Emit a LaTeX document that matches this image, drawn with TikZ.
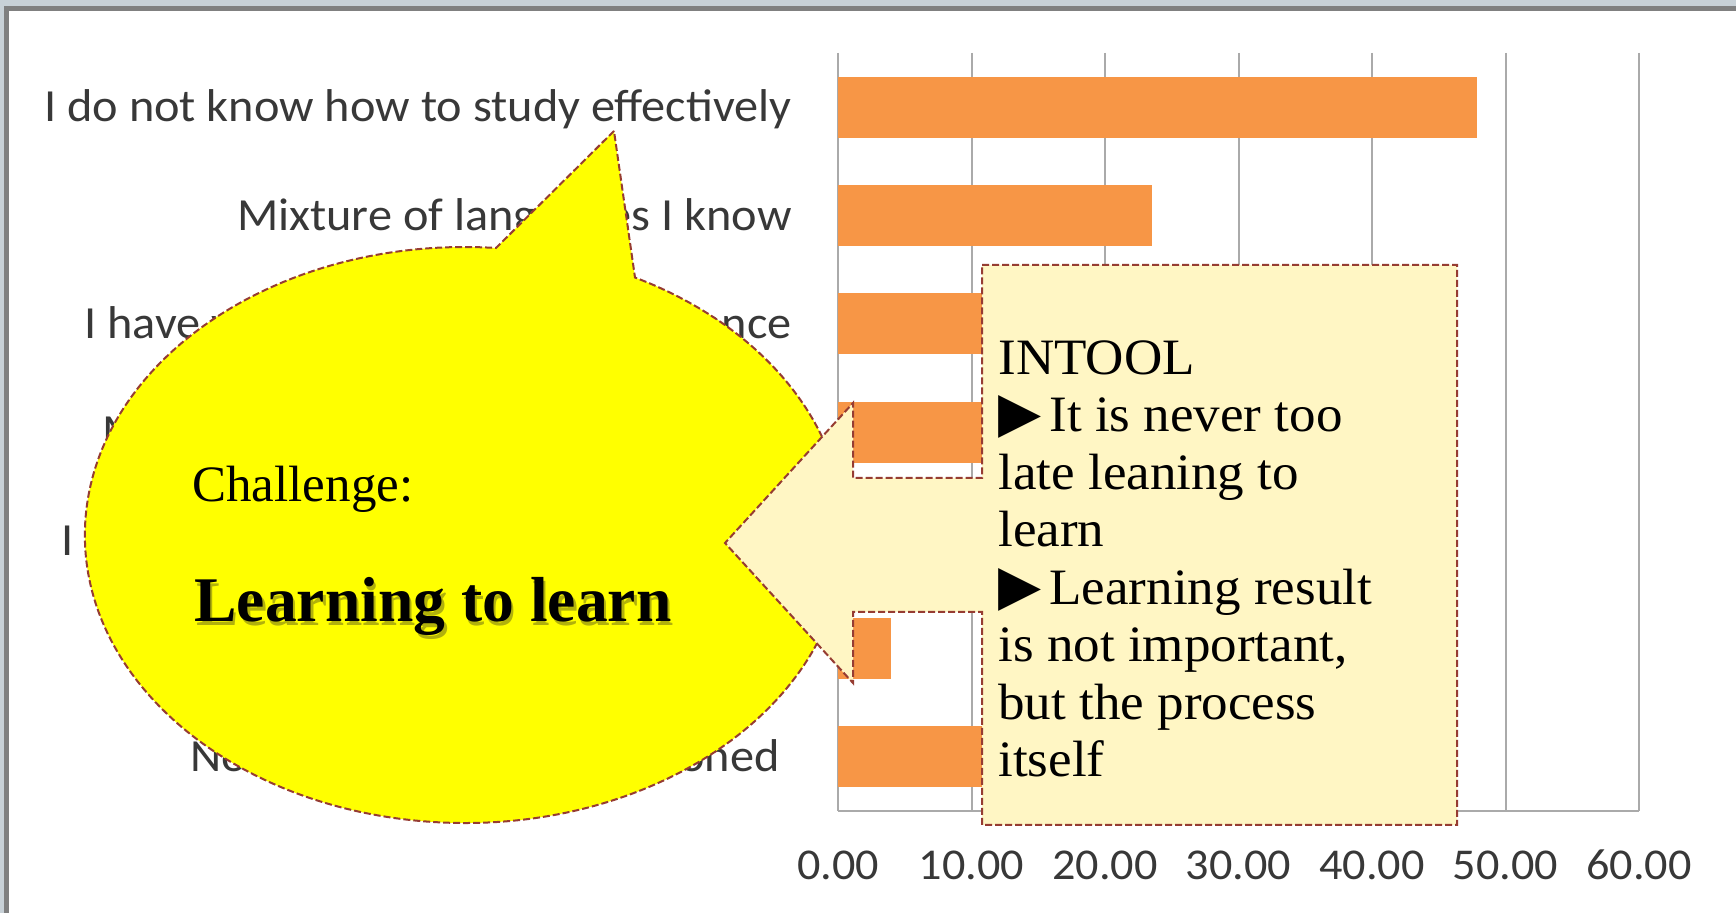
\documentclass[tikz,border=0pt]{standalone}
\usepackage{fontspec}
\setmainfont{Liberation Serif}
\newfontfamily\notefont{Liberation Serif}[FakeStretch=1.04]
\newfontfamily\chartfont{Carlito}[FakeStretch=1.05]
\newfontfamily\symfont{DejaVu Sans}
\usetikzlibrary{positioning}

\definecolor{barorange}{RGB}{247,150,70}
\definecolor{gridgray}{RGB}{170,170,170}
\definecolor{calloutred}{RGB}{150,60,50}
\definecolor{paleyellow}{RGB}{255,246,196}
\definecolor{framegray}{RGB}{200,209,215}
\definecolor{shadowolive}{RGB}{125,125,20}
\definecolor{bubbleyellow}{RGB}{255,255,0}

\newcommand{\tri}{{\symfont\fontsize{28}{28}\selectfont ▶}\hspace{4pt}}

\begin{document}
\begin{tikzpicture}[x=0.5pt,y=-0.5pt,
    bar/.style={fill=barorange},
    grid line/.style={draw=gridgray, line width=1pt},
    category/.style={anchor=base east, inner sep=0pt, text=black!78,
      font=\chartfont\fontsize{23}{27}\selectfont},
    tick/.style={anchor=base, inner sep=0pt, text=black!78,
      font=\chartfont\fontsize{22}{26}\selectfont},
    callout/.style={draw=calloutred, dash pattern=on 3.5pt off 1.5pt, line width=1pt},
    say/.style={anchor=base west, inner sep=0pt, font=\fontsize{25.5}{28.75}\selectfont},
    shout/.style={anchor=base west, inner sep=0pt, font=\bfseries\fontsize{31.8}{36}\selectfont},
  ]
\useasboundingbox (0,0) rectangle (1736,913);
% slide frame
\fill[framegray] (0,0) rectangle (1736,913);
\fill[white] (9,11) rectangle (1736,913);
\draw[gray, line width=2.5pt] (6.5,913) -- (6.5,8.5) -- (1736,8.5);

% chart
\foreach \k/\v in {0/0.00,1/10.00,2/20.00,3/30.00,4/40.00,5/50.00,6/60.00}{
  \draw[grid line] (838+133.5*\k,53) -- (838+133.5*\k,811);
  \node[tick] (tick\k) at (838+133.5*\k,880) {\v};
}
\draw[grid line] (838,811) -- (1639,811);
\foreach \i/\v in {1/47.9,2/23.5,3/30,4/25,6/4,7/20}
  \fill[bar] (838,{53+(\i-0.5)*108.3-30.5}) rectangle ({838+13.35*\v},{53+(\i-0.5)*108.3+30.5});

\node[category] (cat1) at (792,122) {I do not know how to study effectively};
\node[category] (cat2) at (792,231) {Mixture of languages I know};
\node[category] (cat3) at (792,339) {I have very little learning experience};
\node[category] (cat4) at (792,447) {My motivation for study is very low};
\node[category] (cat5) at (792,556) {I have not enough time to study at all};
\node[category] (cat7) at (780,772) {None of the above mentioned};

% speech bubble
\coordinate (bubbletip) at (614,131);
\draw[callout, fill=bubbleyellow] (bubbletip) -- (496,248)
  arc[start angle=-85.3, end angle=-423.4, x radius=380, y radius=288] -- cycle;
\node[say] (challenge) at (192,502) {Challenge:};
\node[shout, text=shadowolive, opacity=0.6] at (196.5,626) {Learning to learn};
\node[shout] (lesson) at (194,622) {Learning to learn};

% arrow box
\draw[callout, fill=paleyellow] (982,265) -- (1457,265) -- (1457,825) -- (982,825)
  -- (982,612) -- (853,612) -- (853,683) -- (725,543) -- (853,403) -- (853,478)
  -- (982,478) -- cycle;
\node[say, align=left, font=\notefont\fontsize{25.5}{28.75}\selectfont] (intool) at (998,777) {INTOOL\\
  \tri It is never too\\
  late leaning to\\
  learn\\
  \tri Learning result\\
  is not important,\\
  but the process\\
  itself};
\end{tikzpicture}
\end{document}
